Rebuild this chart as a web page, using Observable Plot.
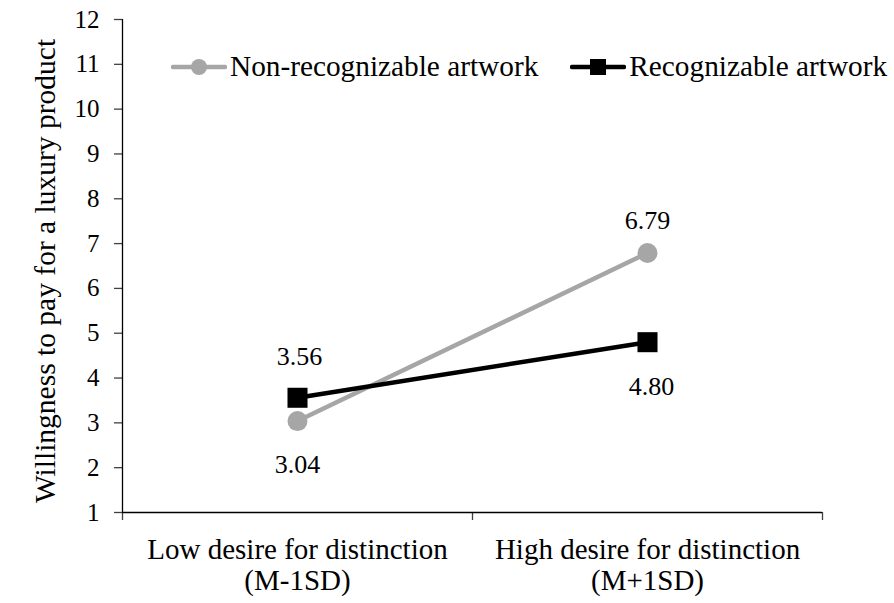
<!DOCTYPE html>
<html>
<head>
<meta charset="utf-8">
<script src="https://cdn.jsdelivr.net/npm/d3@7"></script>
<script src="https://cdn.jsdelivr.net/npm/@observablehq/plot@0.6"></script>
<style>
  html, body { margin: 0; padding: 0; background: #fff; }
  #wrap { position: relative; width: 894px; height: 603px; font-family: "Liberation Serif", "Times New Roman", serif; }
  #legend { position: absolute; left: 171px; top: 50px; display: flex; align-items: center; font-size: 29.3px; color: #000; white-space: nowrap; }
  .item { display: flex; align-items: center; }
  .item svg { display: block; margin-right: 3px; }
  .gap { width: 32px; }
</style>
</head>
<body>
<div id="wrap">
  <div id="chart"></div>
  <div id="legend"></div>
</div>
<script>
// ---- data ----
const categories = ["Low desire for distinction\n(M-1SD)", "High desire for distinction\n(M+1SD)"];
const seriesNames = ["Non-recognizable artwork", "Recognizable artwork"];
const nonRecognizable = [3.04, 6.79];
const recognizable = [3.56, 4.80];
const yTicks = [1, 2, 3, 4, 5, 6, 7, 8, 9, 10, 11, 12];
const yTitle = "Willingness to pay for a luxury product";

const FONT = "Liberation Serif, Times New Roman, serif";
const GRAY = "#a6a6a6";
const BLACK = "#000000";

const rows = [];
categories.forEach((c, i) => {
  rows.push({series: seriesNames[0], pos: i + 0.5, value: nonRecognizable[i], idx: i});
  rows.push({series: seriesNames[1], pos: i + 0.5, value: recognizable[i], idx: i});
});
const grayRows = rows.filter(d => d.series === seriesNames[0]);
const blackRows = rows.filter(d => d.series === seriesNames[1]);
const fmt = d3.format(".2f");
const edges = d3.range(categories.length + 1);

const plot = Plot.plot({
  width: 894,
  height: 603,
  marginLeft: 122,
  marginRight: 72,
  marginTop: 19,
  marginBottom: 91,
  style: {fontFamily: FONT, fontSize: "25px", color: "#000", background: "#fff"},
  x: {domain: [0, categories.length], axis: null},
  y: {domain: [1, 12], axis: null},
  marks: [
    Plot.axisY({ticks: yTicks, label: null, tickSize: 8, tickPadding: 15, fontSize: 25, fontFamily: FONT, stroke: "#404040", strokeWidth: 1.3, strokeOpacity: 1}),
    Plot.axisX({ticks: edges, label: null, tickSize: 8, tickFormat: () => "", stroke: "#404040", strokeWidth: 1.3, strokeOpacity: 1}),
    Plot.ruleX([0], {stroke: BLACK, strokeWidth: 1.3}),
    Plot.ruleY([1], {stroke: BLACK, strokeWidth: 1.3}),
    Plot.text(categories, {x: (d, i) => i + 0.5, frameAnchor: "bottom", lineAnchor: "top", dy: 25, fontSize: 29, lineHeight: 1.06, fontFamily: FONT, fill: BLACK}),
    Plot.text([yTitle], {frameAnchor: "left", textAnchor: "middle", lineAnchor: "middle", rotate: -90, dx: -77, dy: 5, fontSize: 29.5, fontFamily: FONT, fill: BLACK}),
    Plot.line(grayRows, {x: "pos", y: "value", stroke: GRAY, strokeWidth: 4.5}),
    Plot.line(blackRows, {x: "pos", y: "value", stroke: BLACK, strokeWidth: 4.5}),
    Plot.dot(grayRows, {x: "pos", y: "value", r: 10, fill: GRAY, stroke: "none", symbol: "circle"}),
    Plot.dot(blackRows, {x: "pos", y: "value", r: 11.3, fill: BLACK, stroke: "none", symbol: "square"}),
    // data labels
    Plot.text(grayRows.filter(d => d.idx === 0), {x: "pos", y: "value", text: d => fmt(d.value), dy: 44, fontSize: 26, fontFamily: FONT, fill: BLACK}),
    Plot.text(grayRows.filter(d => d.idx === 1), {x: "pos", y: "value", text: d => fmt(d.value), dy: -32, fontSize: 26, fontFamily: FONT, fill: BLACK}),
    Plot.text(blackRows.filter(d => d.idx === 0), {x: "pos", y: "value", text: d => fmt(d.value), dy: -41, dx: 2, fontSize: 26, fontFamily: FONT, fill: BLACK}),
    Plot.text(blackRows.filter(d => d.idx === 1), {x: "pos", y: "value", text: d => fmt(d.value), dy: 44, dx: 4, fontSize: 26, fontFamily: FONT, fill: BLACK})
  ]
});
document.getElementById("chart").appendChild(plot);

// legend
const legend = document.getElementById("legend");
const ns = "http://www.w3.org/2000/svg";
function swatch(color, shape) {
  const s = document.createElementNS(ns, "svg");
  s.setAttribute("width", 56); s.setAttribute("height", 22);
  const l = document.createElementNS(ns, "line");
  l.setAttribute("x1", 2); l.setAttribute("x2", 54); l.setAttribute("y1", 11); l.setAttribute("y2", 11);
  l.setAttribute("stroke", color); l.setAttribute("stroke-width", 4.5); l.setAttribute("stroke-linecap", "round");
  s.appendChild(l);
  if (shape === "circle") {
    const c = document.createElementNS(ns, "circle");
    c.setAttribute("cx", 28); c.setAttribute("cy", 11); c.setAttribute("r", 8); c.setAttribute("fill", color);
    s.appendChild(c);
  } else {
    const r = document.createElementNS(ns, "rect");
    r.setAttribute("x", 20); r.setAttribute("y", 3); r.setAttribute("width", 16); r.setAttribute("height", 16); r.setAttribute("fill", color);
    s.appendChild(r);
  }
  return s;
}
[[seriesNames[0], GRAY, "circle"], [seriesNames[1], BLACK, "square"]].forEach(([name, color, shape], i) => {
  if (i > 0) { const g = document.createElement("div"); g.className = "gap"; legend.appendChild(g); }
  const it = document.createElement("div"); it.className = "item";
  it.appendChild(swatch(color, shape));
  const t = document.createElement("span"); t.textContent = name;
  it.appendChild(t);
  legend.appendChild(it);
});
</script>
</body>
</html>
